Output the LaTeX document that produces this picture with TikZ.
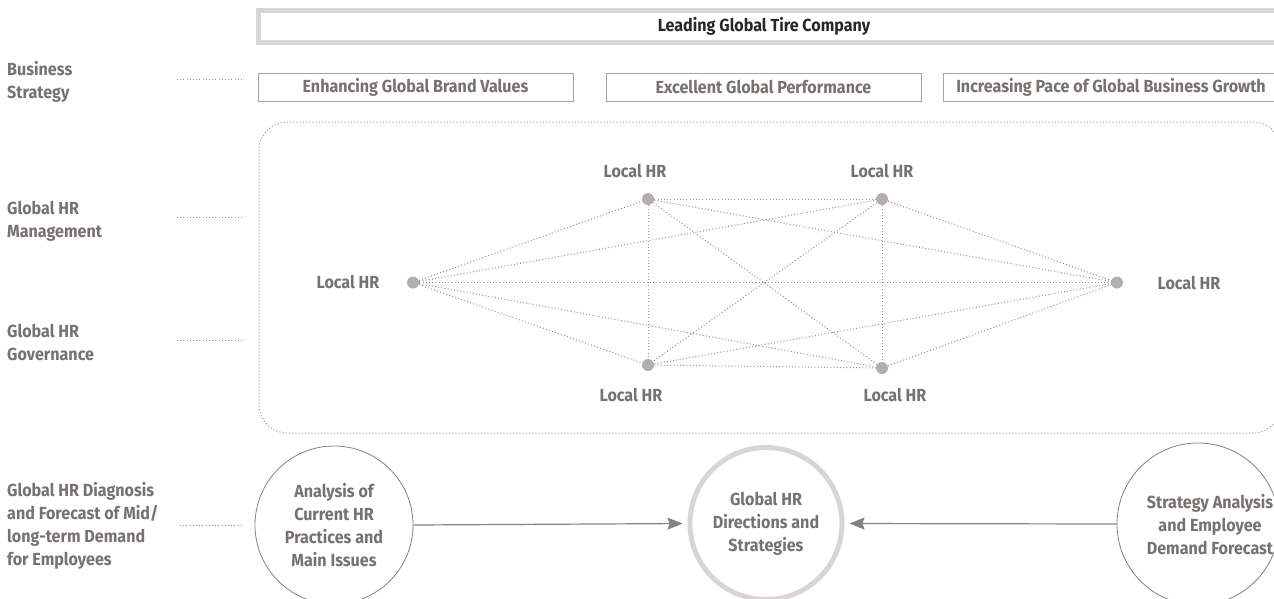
\documentclass[tikz,border=0pt]{standalone}
\usepackage{fontspec}
\setmainfont{Fira Sans}[FakeStretch=0.92]
\usetikzlibrary{arrows.meta}
\definecolor{txt}{HTML}{77716F}
\definecolor{dark}{HTML}{2A2627}
\definecolor{boxline}{HTML}{A7A2A2}
\definecolor{light}{HTML}{D9D5D5}
\definecolor{dotc}{HTML}{B4AFAC}
\definecolor{dotline}{HTML}{959090}
\definecolor{arrc}{HTML}{86807F}
\begin{document}
\begin{tikzpicture}[x=1pt,y=-1pt,
  every node/.style={font=\fontsize{17.5}{23}\selectfont\bfseries, text=txt, inner sep=0pt},
  sidelabel/.style={anchor=west, align=left},
  dotsline/.style={draw=dotline, line width=1pt, dash pattern=on 1pt off 2.2pt},
  stratbox/.style={draw=boxline, line width=1pt, minimum height=28pt},
  hrdot/.style={circle, fill=dotc, minimum size=12pt},
  thincircle/.style={circle, draw=arrc, line width=0.8pt, align=center},
  flow/.style={draw=arrc, line width=1.2pt, -{Stealth[length=15pt,width=12pt,inset=2pt]}, shorten >=5pt}
]
\useasboundingbox (0,0) rectangle (1274,598);
\clip (0,0) rectangle (1274,598);

% top box
\node[draw=light, line width=5pt, minimum width=1024pt, minimum height=32.5pt] (top) at (770.5,26.25) {};
\node[text=dark] (toptext) at (764,26.5) {Leading Global Tire Company};

% strategy boxes
\node[stratbox, minimum width=315pt] (s1) at (415.5,87) {Enhancing Global Brand Values};
\node[stratbox, minimum width=315pt] (s2) at (763.5,87) {Excellent Global Performance};
\node[stratbox, minimum width=336pt] (s3) at (1111,87) {Increasing Pace of Global Business Growth};

% side labels
\node[sidelabel] (lb1) at (7,82) {Business\\Strategy};
\node[sidelabel] (lb2) at (7,221.5) {Global HR\\Management};
\node[sidelabel] (lb3) at (7,342) {Global HR\\Governance};
\node[sidelabel] (lb4) at (7,526) {Global HR Diagnosis\\and Forecast of Mid/\\long-term Demand\\for Employees};

\coordinate (d1a) at (177,79);  \coordinate (d1b) at (243,79);
\coordinate (d2a) at (177,217); \coordinate (d2b) at (243,217);
\coordinate (d3a) at (177,340); \coordinate (d3b) at (243,340);
\coordinate (d4a) at (180,525); \coordinate (d4b) at (243,525);
\draw[dotsline] (d1a) -- (d1b);
\draw[dotsline] (d2a) -- (d2b);
\draw[dotsline] (d3a) -- (d3b);
\draw[dotsline] (d4a) -- (d4b);

% governance frame
\draw[dotsline, rounded corners=28pt] (259,122) rectangle (1281,433);

% local HR network
\coordinate (L)  at (413,282.5);
\coordinate (TL) at (648,199);
\coordinate (TR) at (882,199);
\coordinate (BL) at (648,365);
\coordinate (BR) at (882,368);
\coordinate (R)  at (1117,282.5);
\foreach \a/\b in {L/TL,L/TR,L/BL,L/BR,L/R,TL/TR,TL/BL,TL/BR,TL/R,TR/BL,TR/BR,TR/R,BL/BR,BL/R,BR/R}
  \draw[dotsline] (\a) -- (\b);
\node[hrdot] (nL)  at (L) {};
\node[hrdot] (nTL) at (TL) {};
\node[hrdot] (nTR) at (TR) {};
\node[hrdot] (nBL) at (BL) {};
\node[hrdot] (nBR) at (BR) {};
\node[hrdot] (nR)  at (R) {};
\node (tL)  at (348,282) {Local HR};
\node (tTL) at (635,171) {Local HR};
\node (tTR) at (882,171) {Local HR};
\node (tBL) at (631,395) {Local HR};
\node (tBR) at (895,395) {Local HR};
\node (tR)  at (1189,283) {Local HR};

% bottom circles
\node[thincircle, minimum size=158pt] (lc) at (334,525) {Analysis of\\Current HR\\Practices and\\Main Issues};
\node[circle, draw=light, line width=5pt, minimum size=152pt, align=center] (cc) at (766,523.5) {Global HR\\Directions and\\Strategies};
\node[thincircle, minimum size=162pt] (rc) at (1198,524) {};
\node[align=center] (rct) at (1210,525) {Strategy Analysis\\and Employee\\Demand Forecast};

\draw[flow] (lc.east) -- (cc.west);
\draw[flow] (rc.west) -- (cc.east);
\end{tikzpicture}
\end{document}
